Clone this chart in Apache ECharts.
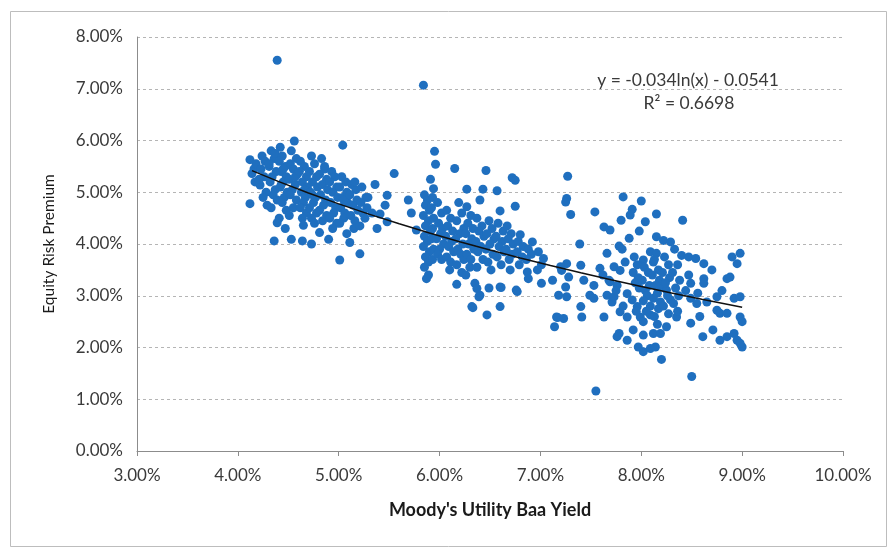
<!DOCTYPE html>
<html>
<head>
<meta charset="utf-8">
<script src="https://cdn.jsdelivr.net/npm/echarts@6/dist/echarts.min.js"></script>
<style>html,body{margin:0;padding:0;background:#fff}#c{width:888px;height:548px}</style>
</head>
<body>
<div id="c"></div>
<script>
// Moody's Utility Baa Yield (%) vs Equity Risk Premium (%)
const earlyPoints = [
[4.12,5.63],[4.14,5.36],[4.12,4.78],[4.16,5.45],[4.18,5.55],[4.17,5.2],[4.22,5.14],[4.29,4.75],[4.24,5.7],[4.27,5.6],[4.23,5.45],[4.26,5.3],[4.28,5.0],[4.25,4.9],[4.21,5.25],
[4.33,5.8],[4.36,5.65],[4.31,5.5],[4.38,5.4],[4.34,5.3],[4.32,5.2],[4.37,5.05],[4.35,4.95],[4.39,4.85],[4.33,4.7],[4.36,4.06],[4.39,4.41],[4.31,5.55],[4.37,5.75],
[4.42,5.87],[4.44,5.7],[4.41,5.6],[4.47,5.5],[4.43,5.4],[4.48,5.3],[4.45,5.2],[4.42,5.1],[4.49,5.0],[4.46,4.9],[4.44,4.8],[4.48,4.65],[4.41,4.5],[4.47,4.3],[4.45,5.45],[4.43,5.15],
[4.56,5.99],[4.53,5.8],[4.58,5.65],[4.52,5.55],[4.55,5.45],[4.59,5.35],[4.51,5.25],[4.57,5.15],[4.54,5.05],[4.52,4.95],[4.58,4.85],[4.55,4.7],[4.51,4.55],[4.53,4.09],[4.57,5.3],
[4.62,5.6],[4.66,5.5],[4.61,5.4],[4.68,5.3],[4.64,5.2],[4.69,5.1],[4.63,5.0],[4.67,4.9],[4.65,4.8],[4.62,4.7],[4.68,4.6],[4.64,4.5],[4.65,4.36],[4.64,4.06],[4.66,5.05],
[4.73,5.7],[4.76,5.55],[4.71,5.4],[4.78,5.3],[4.74,5.2],[4.79,5.1],[4.72,5.0],[4.77,4.9],[4.75,4.8],[4.71,4.7],[4.78,4.6],[4.73,4.5],[4.76,4.4],[4.73,4.0],[4.74,4.95],
[4.83,5.65],[4.86,5.45],[4.81,5.35],[4.88,5.25],[4.84,5.15],[4.89,5.05],[4.82,4.95],[4.87,4.85],[4.85,4.75],[4.81,4.65],[4.88,4.55],[4.84,4.45],[4.81,4.22],[4.86,5.5],
[4.93,5.4],[4.96,5.3],[4.91,5.2],[4.98,5.1],[4.94,5.0],[4.99,4.9],[4.92,4.8],[4.97,4.7],[4.95,4.6],[4.91,4.5],[4.98,4.4],[4.90,4.09],[4.94,4.3],
[5.04,5.91],[5.03,5.3],[5.07,5.2],[5.01,5.1],[5.08,5.0],[5.04,4.9],[5.09,4.8],[5.02,4.7],[5.06,4.6],[5.05,4.5],[5.01,4.4],[5.08,4.2],[5.01,3.69],[5.05,4.85],
[5.13,5.15],[5.17,5.05],[5.11,4.95],[5.18,4.85],[5.14,4.75],[5.19,4.65],[5.12,4.55],[5.16,4.45],[5.15,4.3],[5.11,4.03],[5.16,5.2],
[5.23,5.1],[5.27,4.9],[5.22,4.8],[5.28,4.7],[5.24,4.6],[5.26,4.5],[5.21,4.35],[5.21,3.81],[5.29,4.9],
[5.36,5.15],[5.48,4.94],[5.46,4.75],[5.48,4.43],[5.33,4.6],[5.38,4.3],[5.41,4.58],[5.55,5.36],[4.39,7.55]
];
const middlePoints = [
[5.69,4.85],[5.72,4.60],[5.77,4.27],[5.84,7.07],
[5.91,5.25],[5.94,5.07],[5.85,4.95],[5.88,4.85],[5.86,4.75],[5.90,4.65],[5.84,4.55],[5.89,4.45],[5.86,4.35],[5.91,4.25],[5.85,4.15],[5.88,4.05],[5.84,3.95],[5.90,3.85],[5.86,3.75],[5.89,3.65],[5.85,3.55],[5.89,3.40],[5.87,3.33],
[5.93,4.9],[5.92,4.7],[5.94,4.5],[5.93,4.3],[5.92,4.1],[5.94,3.9],[5.93,3.7],
[5.95,5.79],[5.96,5.54],[5.98,4.8],[6.02,4.6],[5.99,4.4],[6.03,4.3],[6.01,4.2],[5.97,4.1],[6.04,4.0],[6.00,3.9],[5.98,3.8],[6.02,3.7],
[6.15,5.46],[6.07,4.65],[6.11,4.5],[6.08,4.35],[6.13,4.25],[6.06,4.15],[6.12,4.05],[6.09,3.95],[6.14,3.85],[6.07,3.75],[6.11,3.65],[6.10,3.5],
[6.19,4.8],[6.22,4.6],[6.17,4.45],[6.24,4.3],[6.20,4.2],[6.16,4.1],[6.23,4.0],[6.18,3.9],[6.21,3.8],[6.24,3.7],[6.17,3.6],[6.22,3.45],[6.17,3.22],
[6.27,5.06],[6.27,4.72],[6.31,4.55],[6.28,4.4],[6.33,4.3],[6.26,4.2],[6.32,4.1],[6.29,4.0],[6.34,3.9],[6.27,3.8],[6.31,3.7],[6.30,3.55],[6.26,3.4],[6.32,2.79],[6.33,2.77],
[6.46,5.42],[6.43,5.06],[6.40,4.85],[6.37,4.5],[6.42,4.35],[6.39,4.25],[6.44,4.15],[6.36,4.05],[6.41,3.95],[6.38,3.85],[6.43,3.7],[6.37,3.55],[6.35,3.24],[6.37,3.14],[6.40,3.01],[6.39,2.98],
[6.49,4.45],[6.52,4.3],[6.47,4.2],[6.54,4.1],[6.50,4.0],[6.46,3.9],[6.53,3.8],[6.48,3.65],[6.51,3.5],[6.49,3.15],[6.47,2.63],
[6.57,5.03],[6.60,4.64],[6.58,4.4],[6.63,4.25],[6.56,4.15],[6.62,4.05],[6.59,3.95],[6.64,3.85],[6.57,3.75],[6.61,3.6],[6.60,3.17],[6.60,2.79],[6.61,3.16],
[6.72,5.28],[6.75,5.23],[6.67,4.35],[6.71,4.2],[6.68,4.1],[6.73,4.0],[6.66,3.9],[6.72,3.8],[6.69,3.7],[6.70,3.5],[6.76,3.11],
[6.75,4.73],[6.80,4.18],[6.78,4.05],[6.83,3.95],[6.77,3.85],[6.82,3.75],[6.79,3.6],[6.77,3.08],
[6.92,4.04],[6.88,3.9],[6.91,3.8],[6.86,3.7],[6.87,3.46],[6.88,3.33],
[7.03,3.72],[6.98,3.85],[7.01,3.6],[7.01,3.24],[6.97,3.5],
[7.27,5.31],[7.26,4.88],[7.25,4.81],[7.30,4.57],[7.21,3.49],[7.28,3.36],[7.25,3.17],[7.18,3.01],[7.26,2.98],[7.16,2.59],[7.14,2.40],[7.26,3.62],[7.20,3.56],[7.17,2.58],[7.12,3.30]
];
const latePoints = [
[7.82,4.91],[8.00,4.83],[7.54,4.62],[7.91,4.67],[7.89,4.56],[7.80,4.46],[8.04,4.43],[8.15,4.58],[8.41,4.46],[7.63,4.33],[7.69,4.27],[7.98,4.25],[7.88,4.11],[8.15,4.14],[8.22,4.07],[8.29,4.04],
[7.39,4.00],[7.78,3.96],[7.66,3.82],[8.09,3.85],[8.15,3.82],[8.40,3.78],[8.47,3.75],[8.54,3.72],[8.62,3.62],[8.98,3.82],[8.95,3.62],[8.02,3.69],[8.12,3.65],[7.59,3.53],[7.73,3.56],[7.79,3.49],
[7.40,3.59],[8.47,3.40],[8.62,3.33],[8.62,3.24],[8.49,3.24],[8.85,3.33],[8.88,3.36],[7.43,3.30],[7.53,3.20],[7.69,3.27],[7.76,3.20],[7.49,3.01],[7.53,2.95],[7.66,3.01],[7.71,2.88],[7.73,2.98],
[7.86,3.04],[7.91,2.92],[7.96,2.79],[8.19,3.17],[8.25,3.11],[8.29,2.92],[8.19,2.88],[8.49,2.95],[8.55,2.85],[8.65,2.88],[8.75,2.98],[8.92,2.95],[8.98,2.98],[7.40,2.79],[7.41,2.59],[7.63,2.59],
[7.79,2.69],[7.86,2.59],[7.99,2.59],[8.02,2.50],[8.09,2.63],[8.35,2.59],[8.25,2.40],[8.75,2.72],[8.78,2.66],[8.85,2.66],[8.98,2.59],[9.00,2.50],[7.23,2.56],[8.49,2.47],[7.92,2.34],[8.02,2.24],
[8.12,2.27],[8.19,2.27],[8.61,2.21],[8.71,2.34],[8.78,2.14],[8.85,2.21],[8.92,2.27],[8.95,2.14],[9.00,2.01],[8.98,2.08],[7.78,2.27],[7.76,2.21],[7.86,2.14],[7.97,2.01],[8.02,1.92],[8.09,1.98],
[8.14,2.01],[8.20,1.77],[7.55,1.16],[8.50,1.44],
[7.93,3.75],[7.96,3.6],[7.92,3.45],[7.97,3.35],[7.94,3.25],[7.98,3.15],[7.95,2.7],
[8.03,3.55],[8.07,3.45],[8.01,3.3],[8.08,3.2],[8.04,3.1],[8.06,3.0],[8.02,2.9],[8.09,2.8],[8.05,2.7],
[8.13,3.7],[8.17,3.5],[8.11,3.4],[8.18,3.3],[8.14,3.2],[8.16,3.05],[8.12,2.95],[8.17,2.75],[8.13,2.6],[8.16,2.45],
[8.23,3.75],[8.27,3.6],[8.21,3.45],[8.28,3.35],[8.24,3.25],[8.26,3.0],[8.22,2.8],[8.27,2.65],
[8.33,3.9],[8.36,3.6],[8.31,3.45],[8.38,3.3],[8.34,3.15],[8.37,3.0],[8.32,2.85],[8.36,2.7],
[7.62,3.4],[7.68,3.3],[7.75,3.1],[7.82,2.8],[7.84,3.65],[7.81,3.9],
[8.44,3.1],[8.56,3.05],[8.70,3.5],[8.80,3.1],[8.90,3.75],[8.58,2.6]
];
// Trendline as printed on the chart: y = -0.034 ln(x) - 0.0541 (x, y as decimals)
const trendCoefA = -0.034;
const trendCoefB = -0.0541;
const trendX = [4.14,4.4,4.7,5.0,5.3,5.6,5.9,6.2,6.5,6.8,7.1,7.4,7.7,8.0,8.3,8.6,9.0];
const equationText = 'y = -0.034ln(x) - 0.0541';
const r2Text = 'R² = 0.6698';
const xTickLabels = ['3.00%','4.00%','5.00%','6.00%','7.00%','8.00%','9.00%','10.00%'];
const yTickLabels = ['0.00%','1.00%','2.00%','3.00%','4.00%','5.00%','6.00%','7.00%','8.00%'];

const trendData = trendX.map(x => [x, (trendCoefA * Math.log(x / 100) + trendCoefB) * 100]);
const allPoints = earlyPoints.concat(middlePoints, latePoints);

const chart = echarts.init(document.getElementById('c'));
const font = 'Lato, "Open Sans", sans-serif';
const txt = '#3a3a3a';
chart.setOption({
  animation: false,
  backgroundColor: '#fff',
  grid: {left: 137, right: 45, top: 37, bottom: 97},
  xAxis: {
    type: 'value', min: 3, max: 10, interval: 1,
    name: "Moody's Utility Baa Yield", nameLocation: 'middle', nameGap: 50,
    nameTextStyle: {fontFamily: font, fontSize: 18, fontWeight: 'bold', color: '#1a1a1a'},
    axisLine: {show: true, lineStyle: {color: '#8c8c8c', width: 1}},
    axisTick: {show: true, length: 5, lineStyle: {color: '#8c8c8c'}},
    axisLabel: {fontFamily: font, fontSize: 17, color: txt, margin: 16,
      formatter: (v) => xTickLabels[Math.round(v - 3)]},
    splitLine: {show: false}
  },
  yAxis: {
    type: 'value', min: 0, max: 8, interval: 1,
    name: 'Equity Risk Premium', nameLocation: 'middle', nameGap: 80, nameRotate: 90,
    nameTextStyle: {fontFamily: font, fontSize: 15.5, color: '#1a1a1a'},
    axisLine: {show: true, lineStyle: {color: '#8c8c8c', width: 1}},
    axisTick: {show: false},
    axisLabel: {fontFamily: font, fontSize: 17, color: txt, margin: 14,
      formatter: (v) => yTickLabels[Math.round(v)]},
    splitLine: {show: true, lineStyle: {color: '#b5b5b5', type: [3, 3], width: 1}}
  },
  series: [
    {type: 'scatter', data: allPoints, symbolSize: 9,
     itemStyle: {color: '#1f6fbf', opacity: 1}, z: 2},
    {type: 'line', data: trendData, showSymbol: false, symbol: 'none',
     lineStyle: {color: '#111', width: 1.5}, z: 3}
  ],
  graphic: [
    {type: 'rect', shape: {x: 10.5, y: 11.5, width: 876, height: 535},
     style: {fill: 'none', stroke: '#bdbdbd', lineWidth: 1}, silent: true},
    {type: 'text', x: 688, y: 80, style: {text: equationText, font: '17.5px ' + font, fill: txt, textAlign: 'center', textVerticalAlign: 'middle'}},
    {type: 'text', x: 689, y: 103, style: {text: r2Text, font: '17.5px ' + font, fill: txt, textAlign: 'center', textVerticalAlign: 'middle'}}
  ]
});
</script>
</body>
</html>
